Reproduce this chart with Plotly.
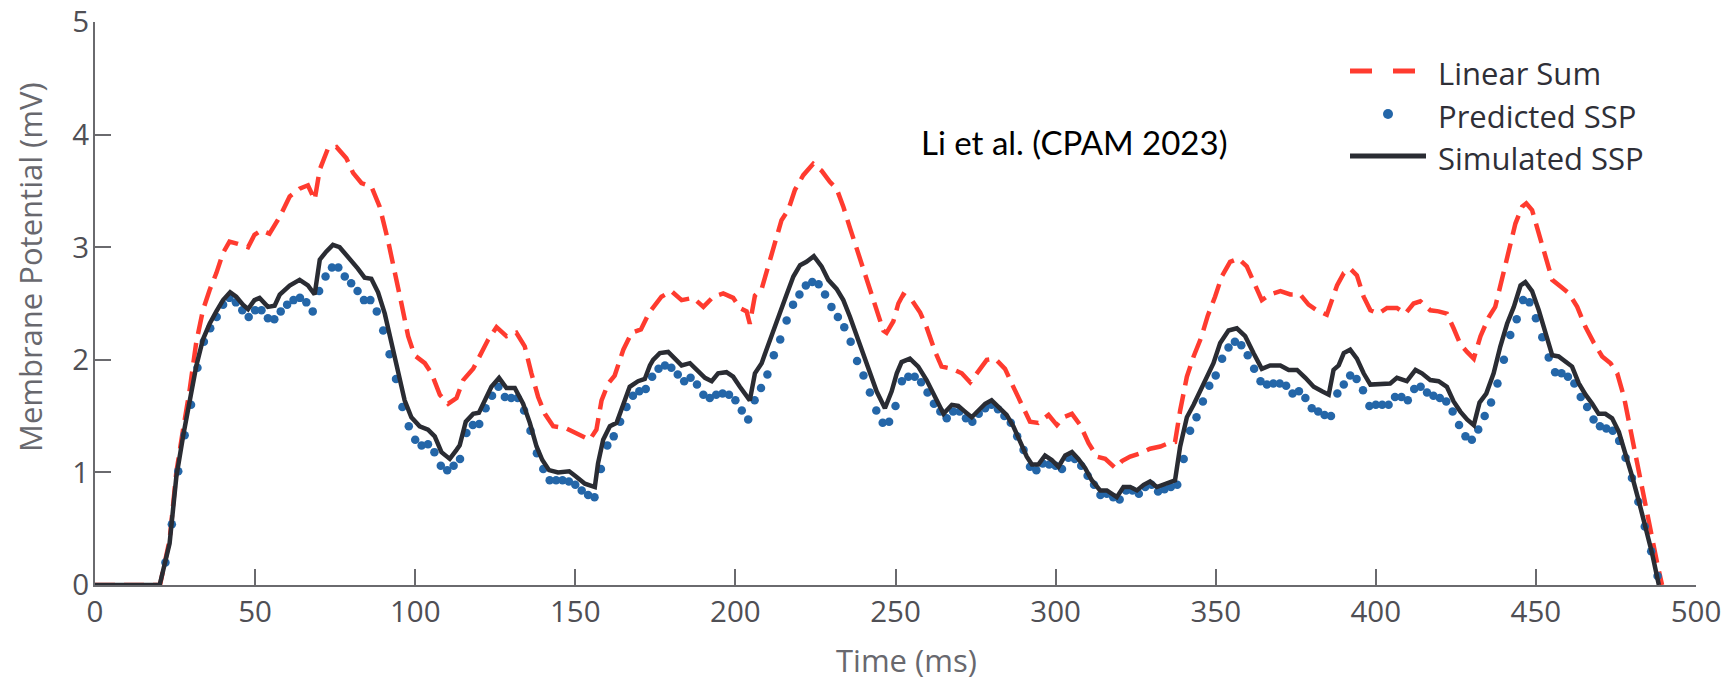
import plotly.graph_objects as go

# ---- data -----------------------------------------------------------------
# Simulated SSP (solid black trace)
sim_t = [0, 20.2, 23.3, 25.4, 27.5, 29.5, 31.6, 33.7, 35.8, 37.9, 40.0, 42.2, 44.1, 46.2, 47.8,
         49.8, 51.4, 54.0, 56.1, 57.7, 60.8, 63.9, 66.5, 68.6, 70.2, 72.2, 74.3, 76.4, 78.5,
         80.6, 82.1, 84.2, 86.3, 88.4, 90.5, 92.6, 94.6, 96.7, 98.8, 101.4, 104.0, 106.1, 108.2,
         110.8, 112.9, 113.9, 115.8, 118.1, 119.9, 122.0, 123.8, 126.2, 128.5, 131.1, 133.7,
         135.8, 137.9, 139.7, 141.8, 144.6, 148.1, 150.4, 153.0, 156.1, 157.1, 158.7, 160.8,
         162.9, 165.0, 167.0, 169.6, 171.7, 173.3, 174.3, 176.4, 179.0, 181.1, 183.2, 185.8,
         187.9, 190.5, 192.6, 194.6, 197.2, 199.3, 201.4, 203.5, 204.5, 206.1, 208.2, 209.7,
         211.8, 213.9, 216.0, 218.1, 220.2, 222.2, 224.5, 226.9, 229.0, 231.6, 233.7, 235.8,
         237.9, 240.0, 242.0, 244.1, 246.7, 248.8, 250.4, 251.9, 254.5, 257.1, 259.7, 262.4,
         265.0, 267.6, 269.6, 271.7, 273.8, 275.9, 278.0, 280.0, 282.1, 284.7, 286.8, 288.9,
         291.0, 292.6, 294.6, 296.7, 298.8, 300.9, 303.0, 305.1, 307.1, 309.2, 311.3, 313.9,
         316.0, 319.1, 321.2, 323.3, 325.4, 327.5, 329.5, 331.6, 334.2, 337.3, 338.9, 341.0,
         343.1, 345.2, 347.5, 349.3, 351.4, 354.0, 356.6, 359.2, 361.8, 364.4, 367.0, 370.2,
         372.8, 375.4, 378.0, 380.6, 383.2, 385.3, 386.8, 388.4, 390.0, 392.0, 394.1, 396.2,
         398.3, 400.4, 402.5, 404.5, 406.6, 409.7, 412.4, 414.4, 417.0, 419.6, 422.2, 424.3,
         426.4, 428.5, 430.6, 432.4, 434.5, 436.8, 438.9, 441.0, 443.1, 445.2, 446.7, 448.8,
         450.9, 453.0, 455.1, 457.1, 459.2, 461.3, 463.4, 465.5, 467.6, 469.6, 471.7, 473.8,
         475.9, 478.0, 480.1, 482.1, 484.2, 486.3, 488.4]
sim_v = [0, 0, 0.37, 0.96, 1.32, 1.61, 1.94, 2.18, 2.32, 2.43, 2.53, 2.60, 2.56, 2.49, 2.45,
         2.53, 2.55, 2.47, 2.48, 2.58, 2.66, 2.71, 2.66, 2.58, 2.89, 2.96, 3.02, 3.00, 2.93,
         2.87, 2.81, 2.73, 2.72, 2.60, 2.41, 2.15, 1.88, 1.64, 1.49, 1.41, 1.38, 1.32, 1.18,
         1.12, 1.20, 1.24, 1.45, 1.52, 1.53, 1.66, 1.76, 1.84, 1.75, 1.75, 1.61,
         1.44, 1.23, 1.11, 1.02, 1.00, 1.01, 0.96, 0.90, 0.87, 1.08, 1.29, 1.41,
         1.44, 1.61, 1.76, 1.81, 1.83, 1.95, 2.00, 2.06, 2.07, 2.01, 1.95, 1.97,
         1.91, 1.84, 1.81, 1.88, 1.89, 1.85, 1.76, 1.67, 1.64, 1.88, 1.97, 2.09,
         2.26, 2.44, 2.58, 2.74, 2.84, 2.87, 2.92, 2.83, 2.71, 2.63, 2.53, 2.38,
         2.22, 2.06, 1.88, 1.72, 1.57, 1.72, 1.88, 1.98, 2.01, 1.94, 1.82, 1.67,
         1.52, 1.60, 1.59, 1.54, 1.49, 1.55, 1.61, 1.64, 1.58, 1.51, 1.41, 1.27,
         1.14, 1.07, 1.07, 1.15, 1.11, 1.05, 1.15, 1.18, 1.12, 1.04, 0.93, 0.84,
         0.84, 0.78, 0.87, 0.87, 0.84, 0.89, 0.92, 0.87, 0.90, 0.93, 1.23, 1.49,
         1.60, 1.73, 1.88, 1.97, 2.15, 2.26, 2.28, 2.21, 2.06, 1.92, 1.95, 1.95,
         1.91, 1.91, 1.84, 1.76, 1.72, 1.69, 1.91, 1.95, 2.06, 2.09, 2.01, 1.88,
         1.78, 1.78, 1.78, 1.79, 1.84, 1.81, 1.91, 1.88, 1.82, 1.81, 1.76, 1.63,
         1.54, 1.47, 1.42, 1.62, 1.70, 1.88, 2.12, 2.32, 2.47, 2.66, 2.69, 2.61,
         2.44, 2.24, 2.04, 2.03, 1.99, 1.94, 1.79, 1.69, 1.61, 1.52, 1.52, 1.48,
         1.36, 1.17, 0.96, 0.75, 0.52, 0.28, 0.0]

# Linear Sum (dashed red trace)
lin_t = [0, 20.3, 23.3, 25.4, 27.5, 29.5, 31.6, 33.7, 35.8, 37.9, 40.0, 42.0, 44.6, 47.8, 49.8,
         51.9, 54.5, 57.7, 60.8, 63.9, 66.5, 68.6, 70.2, 72.8, 75.4, 78.5, 80.6, 83.2, 86.3,
         88.9, 91.5, 93.6, 95.7, 97.8, 99.8, 103.0, 105.1, 107.7, 110.3, 112.9, 115.0, 118.1,
         120.2, 122.8, 125.4, 128.5, 131.6, 134.2, 136.3, 138.4, 140.5, 143.1, 147.2, 151.4,
         154.5, 156.6, 158.2, 160.3, 162.3, 165.0, 167.6, 170.5, 173.1, 176.9, 180.0, 183.2,
         186.8, 190.0, 193.1, 196.2, 199.3, 201.4, 203.5, 204.5, 206.1, 208.2, 210.3, 212.4,
         214.4, 216.5, 218.6, 221.2, 224.3, 226.9, 229.5, 231.6, 233.7, 235.8, 237.9, 240.0,
         242.0, 244.1, 246.2, 247.2, 249.3, 250.9, 252.4, 255.1, 257.7, 259.7, 262.4, 264.4,
         267.6, 270.7, 273.3, 275.4, 278.5, 281.1, 284.2, 286.8, 289.4, 292.0, 294.6, 297.8,
         300.4, 302.5, 305.1, 307.7, 310.3, 312.9, 315.5, 318.6, 320.7, 323.3, 326.4, 329.5,
         332.7, 335.3, 337.3, 338.9, 341.0, 343.1, 345.5, 347.5, 349.8, 351.9, 354.5, 357.1,
         359.7, 362.4, 364.4, 367.0, 370.2, 373.3, 376.4, 379.0, 381.6, 384.7, 386.3, 387.9,
         390.0, 392.0, 394.1, 396.2, 398.3, 400.9, 403.5, 406.6, 409.2, 411.8, 413.9, 417.0,
         419.6, 422.2, 424.3, 426.4, 428.5, 430.6, 432.7, 435.3, 437.3, 439.4, 441.5, 443.6,
         445.7, 447.0, 448.8, 450.9, 453.0, 455.1, 457.7, 460.3, 462.9, 465.5, 468.1, 470.7,
         473.3, 475.4, 477.5, 479.5, 481.6, 483.7, 485.8, 487.9, 489.4]
lin_v = [0, 0, 0.40, 1.00, 1.38, 1.72, 2.15, 2.44, 2.62, 2.77, 2.95, 3.05, 3.03, 3.00, 3.11,
         3.15, 3.12, 3.27, 3.45, 3.52, 3.55, 3.42, 3.69, 3.88, 3.89, 3.79, 3.66, 3.57, 3.54,
         3.36, 3.06, 2.80, 2.50, 2.21, 2.04, 1.97, 1.88, 1.69, 1.61, 1.66, 1.82, 1.92,
         2.03, 2.18, 2.29, 2.21, 2.24, 2.12, 1.88, 1.67, 1.52, 1.41, 1.39, 1.33,
         1.29, 1.38, 1.64, 1.79, 1.86, 2.09, 2.24, 2.27, 2.42, 2.56, 2.61, 2.53,
         2.55, 2.47, 2.56, 2.59, 2.55, 2.46, 2.43, 2.32, 2.57, 2.63, 2.83, 3.03,
         3.24, 3.33, 3.51, 3.64, 3.74, 3.68, 3.58, 3.52, 3.36, 3.17, 2.98, 2.80,
         2.61, 2.43, 2.26, 2.24, 2.34, 2.50, 2.58, 2.53, 2.42, 2.29, 2.07, 1.94,
         1.92, 1.88, 1.80, 1.88, 2.00, 2.01, 1.92, 1.76, 1.61, 1.45, 1.44, 1.51,
         1.42, 1.49, 1.52, 1.42, 1.26, 1.14, 1.12, 1.04, 1.10, 1.14, 1.17, 1.21,
         1.23, 1.26, 1.27, 1.55, 1.85, 2.03, 2.20, 2.39, 2.56, 2.74, 2.87, 2.90,
         2.83, 2.65, 2.53, 2.58, 2.61, 2.58, 2.58, 2.49, 2.44, 2.40, 2.53, 2.66,
         2.77, 2.81, 2.75, 2.56, 2.44, 2.41, 2.46, 2.46, 2.41, 2.50, 2.52, 2.44,
         2.43, 2.41, 2.28, 2.14, 2.07, 2.01, 2.21, 2.38, 2.47, 2.72, 2.98, 3.21,
         3.36, 3.39, 3.33, 3.12, 2.92, 2.71, 2.65, 2.59, 2.47, 2.29, 2.15, 2.03,
         1.97, 1.88, 1.67, 1.38, 1.08, 0.78, 0.49, 0.19, 0.0]

# Predicted SSP (blue markers), one sample every 2 ms
pred_t = list(range(22, 490, 2))
pred_v = [0.20, 0.54, 1.01, 1.33, 1.60, 1.93, 2.16, 2.28, 2.38, 2.49,
          2.55, 2.51, 2.44, 2.38, 2.44, 2.44, 2.37, 2.36, 2.43, 2.49,
          2.53, 2.55, 2.51, 2.43, 2.61, 2.74, 2.82, 2.82, 2.74, 2.68,
          2.61, 2.53, 2.53, 2.43, 2.26, 2.05, 1.83, 1.58, 1.41, 1.29,
          1.24, 1.25, 1.18, 1.06, 1.02, 1.06, 1.12, 1.35, 1.42, 1.43,
          1.57, 1.68, 1.76, 1.67, 1.66, 1.66, 1.55, 1.37, 1.17, 1.03,
          0.93, 0.93, 0.93, 0.92, 0.89, 0.84, 0.80, 0.78, 1.03, 1.24,
          1.32, 1.45, 1.58, 1.68, 1.72, 1.74, 1.85, 1.92, 1.95, 1.93,
          1.87, 1.81, 1.84, 1.78, 1.69, 1.66, 1.69, 1.70, 1.69, 1.64,
          1.55, 1.47, 1.64, 1.75, 1.87, 2.04, 2.18, 2.35, 2.49, 2.58,
          2.66, 2.69, 2.67, 2.58, 2.47, 2.38, 2.29, 2.16, 1.99, 1.86,
          1.71, 1.55, 1.44, 1.45, 1.59, 1.81, 1.85, 1.85, 1.80, 1.71,
          1.61, 1.54, 1.48, 1.54, 1.54, 1.48, 1.45, 1.52, 1.57, 1.60,
          1.56, 1.50, 1.44, 1.32, 1.20, 1.05, 1.02, 1.08, 1.07, 1.06,
          1.03, 1.13, 1.12, 1.06, 0.97, 0.89, 0.80, 0.81, 0.78, 0.76,
          0.84, 0.84, 0.81, 0.87, 0.89, 0.83, 0.85, 0.87, 0.89, 1.12,
          1.37, 1.49, 1.63, 1.77, 1.86, 2.01, 2.11, 2.16, 2.13, 2.04,
          1.92, 1.81, 1.78, 1.79, 1.79, 1.77, 1.70, 1.72, 1.66, 1.57,
          1.54, 1.51, 1.50, 1.70, 1.78, 1.86, 1.83, 1.73, 1.59, 1.60,
          1.60, 1.60, 1.67, 1.67, 1.64, 1.74, 1.76, 1.71, 1.68, 1.66,
          1.63, 1.54, 1.42, 1.32, 1.29, 1.38, 1.50, 1.62, 1.79, 2.00,
          2.22, 2.36, 2.53, 2.51, 2.37, 2.20, 2.02, 1.89, 1.88, 1.85,
          1.79, 1.67, 1.58, 1.47, 1.41, 1.39, 1.37, 1.28, 1.13, 0.95,
          0.74, 0.52, 0.30, 0.08]
assert len(pred_t) == len(pred_v)

x_ticks = [0, 50, 100, 150, 200, 250, 300, 350, 400, 450, 500]
y_ticks = [0, 1, 2, 3, 4, 5]
series_names = ["Linear Sum", "Predicted SSP", "Simulated SSP"]

# ---- styling ----------------------------------------------------------------
RED = "#ff3b2f"
BLUE = "#2466a8"
BLACK = "#2a2c33"
AXIS = "#6a6a6e"
TICK_TXT = "#4f4f55"
TITLE_TXT = "#68686e"
LEG_TXT = "#2f2f37"
FONT = "Open Sans"

W, H = 1724, 682
ML, MR, MT, MB = 95, 28, 22, 97
PW, PH = W - ML - MR, H - MT - MB


def px_x(p):
    """page pixel column -> paper x"""
    return (p - ML) / PW


def px_y(p):
    """page pixel row -> paper y"""
    return (H - MB - p) / PH


fig = go.Figure()
fig.add_trace(go.Scatter(x=lin_t, y=lin_v, mode="lines", name=series_names[0],
                         line=dict(color=RED, width=4.5, dash="20px,9px")))
fig.add_trace(go.Scatter(x=pred_t, y=pred_v, mode="markers", name=series_names[1],
                         marker=dict(color=BLUE, size=8.5, line=dict(width=0))))
fig.add_trace(go.Scatter(x=sim_t, y=sim_v, mode="lines", name=series_names[2],
                         line=dict(color=BLACK, width=4.5)))

axis_common = dict(showline=True, linecolor=AXIS, linewidth=2, ticks="inside", ticklen=16,
                   tickwidth=2, tickcolor=AXIS, showgrid=False, zeroline=False,
                   layer="below traces", automargin=False,
                   tickfont=dict(family=FONT, size=29.5, color=TICK_TXT))

fig.update_layout(
    width=W, height=H,
    margin=dict(l=ML, r=MR, t=MT, b=MB, autoexpand=False),
    plot_bgcolor="white", paper_bgcolor="white",
    showlegend=False,
    xaxis=dict(range=[0, 500], tickvals=x_ticks, ticktext=[str(v) for v in x_ticks],
               ticklabelstandoff=0, **axis_common),
    yaxis=dict(range=[0, 5], tickvals=y_ticks, ticktext=[str(v) for v in y_ticks],
               ticklabelstandoff=-2, **axis_common),
)

annotations = [
    dict(text="Time (ms)", x=px_x(906), y=px_y(660), xref="paper", yref="paper",
         xanchor="center", yanchor="middle", showarrow=False,
         font=dict(family=FONT, size=31, color=TITLE_TXT)),
    dict(text="Membrane Potential (mV)", x=px_x(30), y=px_y(267), xref="paper", yref="paper",
         xanchor="center", yanchor="middle", textangle=-90, showarrow=False,
         font=dict(family=FONT, size=31, color=TITLE_TXT)),
    dict(text="Li et al. (CPAM 2023)", x=px_x(919), y=px_y(142), xref="paper", yref="paper",
         xanchor="left", yanchor="middle", showarrow=False,
         font=dict(family="Lato", size=33, color="#000000")),
]

# hand-drawn legend block (upper right)
leg_rows = [73, 116, 158]
for name, row in zip(series_names, leg_rows):
    annotations.append(dict(text=name, x=px_x(1436), y=px_y(row), xref="paper", yref="paper",
                            xanchor="left", yanchor="middle", showarrow=False,
                            font=dict(family=FONT, size=31, color=LEG_TXT)))

shapes = [
    dict(type="line", xref="paper", yref="paper", x0=px_x(1350), x1=px_x(1372),
         y0=px_y(71), y1=px_y(71), line=dict(color=RED, width=5)),
    dict(type="line", xref="paper", yref="paper", x0=px_x(1393), x1=px_x(1415),
         y0=px_y(71), y1=px_y(71), line=dict(color=RED, width=5)),
    dict(type="circle", xref="paper", yref="paper", x0=px_x(1383), x1=px_x(1393),
         y0=px_y(119), y1=px_y(109), fillcolor=BLUE, line=dict(width=0)),
    dict(type="line", xref="paper", yref="paper", x0=px_x(1350), x1=px_x(1426),
         y0=px_y(156), y1=px_y(156), line=dict(color=BLACK, width=5)),
]

fig.update_layout(annotations=annotations, shapes=shapes)

fig.write_html("out.html")
